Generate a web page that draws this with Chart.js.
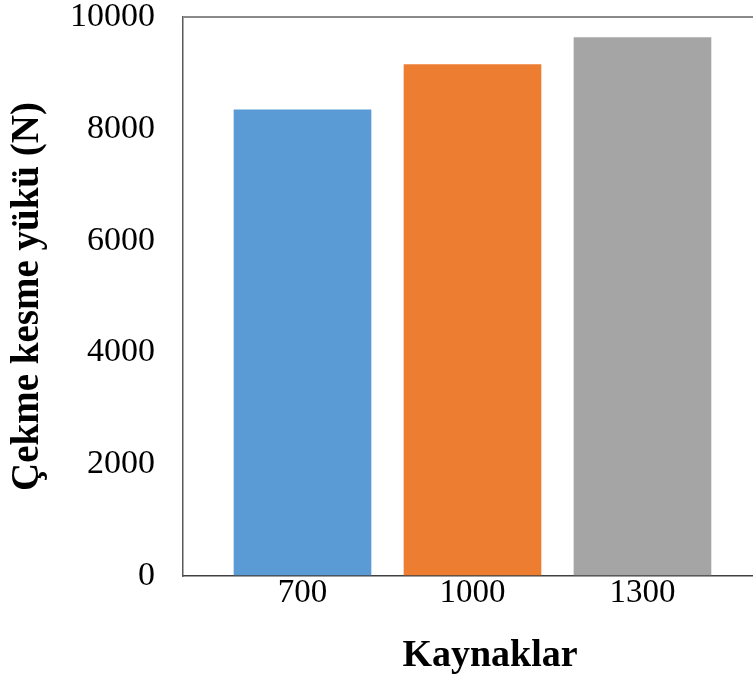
<!DOCTYPE html>
<html>
<head>
<meta charset="utf-8">
<script src="https://cdn.jsdelivr.net/npm/chart.js@4.4.1/dist/chart.umd.min.js"></script>
<style>
  html, body { margin: 0; padding: 0; background: #ffffff; overflow: hidden; width: 753px; height: 681px; }
  #wrap { position: relative; width: 797px; height: 681px; }
  canvas { display: block; }
</style>
</head>
<body>
<div id="wrap"><canvas id="c" width="797" height="681"></canvas></div>
<script>
const categories = ['700', '1000', '1300'];
const loadValues = [8340, 9150, 9630];
const barColors = ['#5B9BD5', '#ED7D31', '#A5A5A5'];
const yTicks = [0, 2000, 4000, 6000, 8000, 10000];
const xTitle = 'Kaynaklar';
const yTitle = 'Çekme kesme yükü (N)';

const serif = '"Liberation Serif", "Times New Roman", serif';

const points = categories.map((c, i) => ({ x: i, y: loadValues[i] }));

new Chart(document.getElementById('c'), {
  type: 'bar',
  data: {
    datasets: [{
      data: points,
      backgroundColor: barColors,
      borderWidth: 0,
      barThickness: 137
    }]
  },
  options: {
    responsive: false,
    animation: false,
    layout: { padding: { top: 16.5, left: 0, right: 0, bottom: 0 } },
    plugins: { legend: { display: false }, tooltip: { enabled: false } },
    scales: {
      x: {
        type: 'linear',
        offset: false,
        min: -0.703,
        max: 2.909,
        afterBuildTicks: (s) => { s.ticks = categories.map((c, i) => ({ value: i })); },
        afterFit: (s) => { s.height = 105; },
        grid: { display: true, offset: false, color: 'rgba(0,0,0,0)', drawTicks: false },
        border: { display: true, color: '#404040', width: 1.5 },
        ticks: {
          color: '#000000',
          font: { family: serif, size: 33, lineHeight: 1 },
          padding: 1,
          maxRotation: 0,
          autoSkip: false,
          callback: (v) => categories[v]
        },
        title: {
          display: true,
          text: xTitle,
          color: '#000000',
          font: { family: serif, size: 38, weight: 'bold', lineHeight: 1.2 },
          padding: { top: 0, bottom: 2 }
        }
      },
      y: {
        min: 0,
        max: 10000,
        afterBuildTicks: (s) => { s.ticks = yTicks.map(v => ({ value: v })); },
        afterFit: (s) => { s.width = 183; },
        grid: {
          display: true,
          drawTicks: true,
          tickLength: 28,
          tickColor: 'rgba(0,0,0,0)',
          color: (ctx) => (ctx.tick && ctx.tick.value === 10000) ? '#8A8A8A' : 'rgba(0,0,0,0)',
          lineWidth: 2
        },
        border: { display: true, color: '#595959', width: 1.5 },
        ticks: {
          color: '#000000',
          font: { family: serif, size: 34, lineHeight: 1 },
          padding: 0,
          callback: (v) => String(v)
        },
        title: {
          display: true,
          text: yTitle,
          color: '#000000',
          font: { family: serif, size: 39, weight: 'bold', lineHeight: 1.2 },
          padding: { top: 5, bottom: 0 }
        }
      }
    }
  }
});
</script>
</body>
</html>
